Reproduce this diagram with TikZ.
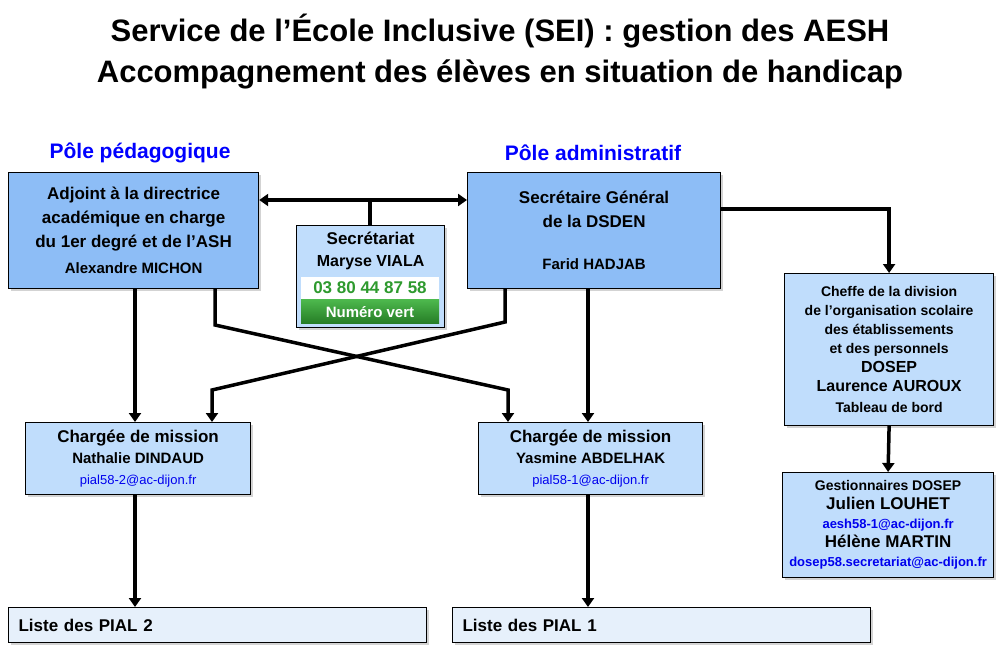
\documentclass[tikz,border=0pt]{standalone}
\usepackage{fontspec}
\setmainfont{Liberation Sans}
\usetikzlibrary{positioning,arrows.meta,shadows}
\definecolor{darkbox}{HTML}{8DBDF6}
\definecolor{lightbox}{HTML}{C0DDFC}
\definecolor{listbox}{HTML}{E6F0FB}
\definecolor{vert}{HTML}{2E9A2E}
\definecolor{link}{HTML}{0000EE}
\tikzset{
  box/.style={draw=black,line width=1.2pt,align=center,inner sep=0pt,drop shadow={opacity=0.35,shadow xshift=2pt,shadow yshift=-2pt}},
  pole/.style={text=blue,font=\bfseries\fontsize{21}{24}\selectfont},
  link/.style={line width=3.5pt,-{Triangle[length=9pt,width=12pt]}},
  wire/.style={line width=3.5pt}
}
\newcommand{\mail}[1]{{\fontsize{13}{15}\selectfont\color{link}#1}}
\begin{document}
\begin{tikzpicture}[x=1pt,y=-1pt]
\useasboundingbox (0,0) rectangle (1000,650);
\node[font=\bfseries\fontsize{31}{41}\selectfont,align=center] (title) at (500,52)
  {Service de l’École Inclusive (SEI) : gestion des AESH\\Accompagnement des élèves en situation de handicap};
\node[pole] (ped) at (140,153) {Pôle pédagogique};
\node[pole] (adm) at (593,153) {Pôle administratif};
% boites du haut
\node[box,fill=darkbox,minimum width=250pt,minimum height=116pt,anchor=north west,
  font=\bfseries\fontsize{17}{24}\selectfont] (adj) at (8,172)
  {Adjoint à la directrice\\académique en charge\\du 1er degré et de l'ASH\\[2pt]{\fontsize{15}{18}\selectfont Alexandre MICHON}};
\node[box,fill=darkbox,minimum width=253pt,minimum height=116pt,anchor=north west,
  font=\bfseries\fontsize{17}{24}\selectfont] (sg) at (467,172)
  {Secrétaire Général\\de la DSDEN\\[18pt]{\fontsize{15}{18}\selectfont Farid HADJAB}};
\node[box,fill=lightbox,minimum width=148pt,minimum height=102pt,anchor=north west] (sec) at (296,225) {};
\node[font=\bfseries\fontsize{17}{22}\selectfont,align=center,below=3pt of sec.north] (secname)
  {Secrétariat\\{\fontsize{16}{20}\selectfont Maryse VIALA}};
\node[fill=white,minimum width=138pt,minimum height=23pt,inner sep=0pt,
  font=\bfseries\fontsize{17}{20}\selectfont,text=vert] (tel) at (370,288) {03 80 44 87 58};
\node[top color=green!60!black!70,bottom color=vert!80!black,minimum width=138pt,minimum height=24pt,inner sep=0pt,
  font=\bfseries\fontsize{15}{18}\selectfont,text=white,below=0pt of tel] (vert) {Numéro vert};
% colonne de droite
\node[box,fill=lightbox,minimum width=209pt,minimum height=152pt,anchor=north west,
  font=\bfseries\fontsize{14}{19}\selectfont] (dosep) at (784,273)
  {Cheffe de la division\\de l'organisation scolaire\\des établissements\\et des personnels\\
   {\fontsize{16}{20}\selectfont DOSEP}\\{\fontsize{16}{20}\selectfont Laurence AUROUX}\\[2pt]Tableau de bord};
\node[box,fill=lightbox,minimum width=211pt,minimum height=105pt,anchor=north west,
  font=\bfseries\fontsize{14}{19}\selectfont] (gest) at (782,472)
  {Gestionnaires DOSEP\\{\fontsize{17}{20}\selectfont Julien LOUHET}\\\mail{aesh58-1@ac-dijon.fr}\\
   {\fontsize{17}{20}\selectfont Hélène MARTIN}\\\mail{dosep58.secretariat@ac-dijon.fr}};
% chargees de mission
\node[box,fill=lightbox,minimum width=225pt,minimum height=72pt,anchor=north west,
  font=\bfseries\fontsize{17}{21}\selectfont] (cm2) at (25,422)
  {Chargée de mission\\{\fontsize{15}{19}\selectfont Nathalie DINDAUD}\\\mail{\mdseries pial58-2@ac-dijon.fr}};
\node[box,fill=lightbox,minimum width=224pt,minimum height=72pt,anchor=north west,
  font=\bfseries\fontsize{17}{21}\selectfont] (cm1) at (478,422)
  {Chargée de mission\\{\fontsize{15}{19}\selectfont Yasmine ABDELHAK}\\\mail{\mdseries pial58-1@ac-dijon.fr}};
% listes
\node[box,fill=listbox,minimum width=418pt,minimum height=35pt,anchor=north west,
  font=\bfseries\fontsize{17}{20}\selectfont,text width=398pt,align=left] (pial2) at (8,607) {Liste des PIAL 2};
\node[box,fill=listbox,minimum width=418pt,minimum height=35pt,anchor=north west,
  font=\bfseries\fontsize{17}{20}\selectfont,text width=398pt,align=left] (pial1) at (452,607) {Liste des PIAL 1};
% liaisons
\coordinate (hub) at (370,200);
\draw[line width=3.5pt,{Triangle[length=9pt,width=12pt]}-{Triangle[length=9pt,width=12pt]}]
  (adj.east |- hub) -- (sg.west |- hub);
\draw[wire] (hub) -- (sec.north -| hub);
\draw[link] (sg.east |- 0,209) -| (dosep.north);
\draw[link] (dosep.south) -- (gest.north);
\draw[link] (adj.south -| 135,0) -- (cm2.north -| 135,0);
\draw[link] (sg.south -| 588,0) -- (cm1.north -| 588,0);
\coordinate (a1) at (215,325);
\coordinate (a2) at (508,390);
\coordinate (b1) at (505,322);
\coordinate (b2) at (212,390);
\draw[link] (adj.south -| a1) -- (a1) -- (a2) -- (cm1.north -| a2);
\draw[link] (sg.south -| b1) -- (b1) -- (b2) -- (cm2.north -| b2);
\draw[link] (cm2.south -| 135,0) -- (pial2.north -| 135,0);
\draw[link] (cm1.south -| 588,0) -- (pial1.north -| 588,0);
\end{tikzpicture}
\end{document}
